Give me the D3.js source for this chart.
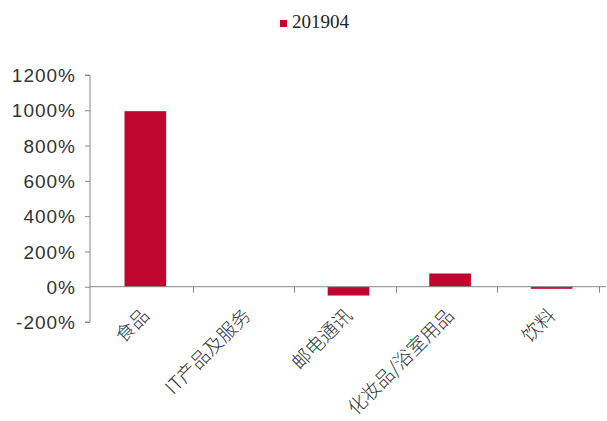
<!DOCTYPE html>
<html><head><meta charset="utf-8">
<script src="https://cdn.jsdelivr.net/npm/d3@7"></script>
<style>body{margin:0;background:#fff}svg{display:block}</style>
</head><body>
<svg id="c" width="607" height="421"></svg>
<script>
const categories = ["食品","IT产品及服务","邮电通讯","化妆品/浴室用品","饮料"];
const series201904 = [995, 0, -50, 75, -12];
const seriesName = "201904";
const yTicks = [-200, 0, 200, 400, 600, 800, 1000, 1200];

const svg = d3.select("#c");
const color = "#C0062E";
const x = d3.scaleBand().domain(categories).range([91, 606]).paddingInner(0.59).paddingOuter(0.33);
const y = d3.scaleLinear().domain([-200, 1200]).range([322, 75]);

// y axis
const ya = svg.append("g").attr("transform","translate(90,0)")
  .call(d3.axisLeft(y).tickValues(yTicks).tickSize(5).tickFormat(d => d + "%"));
ya.select(".domain").attr("stroke","#888").attr("d","M-5,"+y(1200)+"H0V"+y(-200)+"H-5");
ya.selectAll(".tick line").attr("stroke","#888");
ya.selectAll(".tick text").attr("font-family","'Liberation Sans', Arial, sans-serif")
  .attr("font-size","19px").attr("fill","#333").attr("letter-spacing","1px").attr("x",-14).attr("dy","0.35em");

// bars
svg.append("g").selectAll("rect").data(categories).join("rect")
  .attr("x", d => x(d))
  .attr("width", x.bandwidth())
  .attr("y", (d,i) => y(Math.max(0, series201904[i])))
  .attr("height", (d,i) => Math.abs(y(series201904[i]) - y(0)))
  .attr("fill", color);

// x axis at zero
const xStep = x.step();
const x0 = 91;
const xa = svg.append("g");
xa.append("line").attr("x1",90).attr("x2",606).attr("y1",y(0)).attr("y2",y(0)).attr("stroke","#888");
categories.forEach((c,i) => {
  const tx = Math.round(x0 + xStep*(i+1)) + 0.5;
  xa.append("line").attr("x1",tx).attr("x2",tx).attr("y1",y(0)).attr("y2",y(0)+6).attr("stroke","#888");
});
// labels
svg.append("g").selectAll("text").data(categories).join("text")
  .attr("transform", d => `translate(${x(d)+x.bandwidth()/2+5},${y(0)+30}) rotate(-45)`)
  .attr("text-anchor","end")
  .attr("font-family","'Noto Sans CJK SC', sans-serif")
  .attr("font-weight","300")
  .attr("font-size","19px").attr("fill","#333")
  .text(d => d);

// legend
const lg = svg.append("g");
lg.append("rect").attr("x",280).attr("y",20).attr("width",7).attr("height",7).attr("fill",color);
lg.append("text").attr("x",292).attr("y",28).attr("font-family","'Liberation Serif', 'Times New Roman', serif")
  .attr("font-size","19px").attr("fill","#222").text(seriesName);
</script>
</body></html>
